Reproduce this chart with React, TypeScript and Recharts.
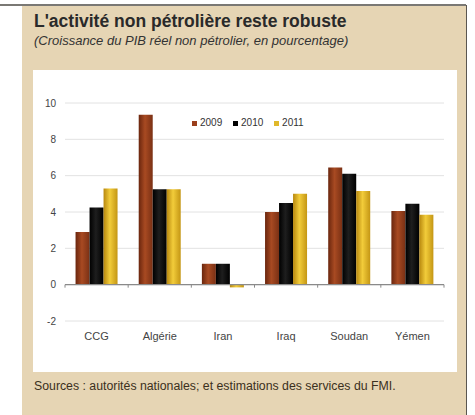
import React from "react";
import { BarChart, Bar, XAxis, YAxis, CartesianGrid, ReferenceLine } from "recharts";

const categories = ["CCG", "Algérie", "Iran", "Iraq", "Soudan", "Yémen"];
const values2009 = [2.9, 9.35, 1.15, 4.0, 6.45, 4.05];
const values2010 = [4.25, 5.25, 1.15, 4.5, 6.1, 4.45];
const values2011 = [5.3, 5.25, -0.15, 5.0, 5.15, 3.85];
const yTicks = [-2, 0, 2, 4, 6, 8, 10];
const seriesNames = ["2009", "2010", "2011"];

const title = "L'activité non pétrolière reste robuste";
const subtitle = "(Croissance du PIB réel non pétrolier, en pourcentage)";
const source = "Sources : autorités nationales; et estimations des services du FMI.";

const data = categories.map((c, i) => ({
  name: c,
  y2009: values2009[i],
  y2010: values2010[i],
  y2011: values2011[i],
}));

const seriesKeys = ["y2009", "y2010", "y2011"];
const legendColors = ["#9a3f1c", "#000000", "#e0b82a"];
const gradStops = [
  ["#6a260e", "#a84a22", "#7a3014"],
  ["#000000", "#1e1e1e", "#000000"],
  ["#b8880e", "#f2cc3a", "#c49614"],
];

const FONT = "'Liberation Sans', Arial, sans-serif";

const ZeroAxis = (props: any) => {
  const { x1, x2, y1 } = props;
  const n = categories.length;
  const ticks = [];
  for (let i = 0; i <= n; i++) {
    const x = x1 + ((x2 - x1) * i) / n;
    ticks.push(<line key={i} x1={x} x2={x} y1={y1} y2={y1 + 3} stroke="#8a8a8a" strokeWidth={1} />);
  }
  return (
    <g>
      <line x1={x1} x2={x2} y1={y1} y2={y1} stroke="#8a8a8a" strokeWidth={1.2} />
      {ticks}
    </g>
  );
};

export default function App() {
  return (
    <div style={{ position: "absolute", left: 0, top: 0, width: 475, height: 415, background: "#fff", overflow: "hidden", fontFamily: FONT }}>
      <div style={{ position: "absolute", left: 0, top: 4, width: 466, height: 2, background: "#7a7874" }} />
      <div style={{ position: "absolute", left: 22, top: 6, width: 444, height: 409, background: "#e6d5b4" }} />
      <div style={{ position: "absolute", left: 466, top: 5, width: 1, height: 410, background: "#5a5650" }} />
      <div style={{ position: "absolute", left: 33, top: 70, width: 424, height: 302, background: "#ffffff" }} />
      <div style={{ position: "absolute", left: 34, top: 11, fontSize: 17.5, fontWeight: "bold", color: "#2a2a2a", whiteSpace: "nowrap", lineHeight: 1.15 }}>
        {title}
      </div>
      <div style={{ position: "absolute", left: 34, top: 34, fontSize: 13, fontStyle: "italic", color: "#333", whiteSpace: "nowrap", lineHeight: 1.15 }}>
        {subtitle}
      </div>
      <div style={{ position: "absolute", left: 34, top: 378.5, fontSize: 12.3, color: "#3b3020", whiteSpace: "nowrap", lineHeight: 1.15 }}>
        {source}
      </div>
      <div style={{ position: "absolute", left: 192, top: 117, display: "flex", fontSize: 10, color: "#333", lineHeight: "12px" }}>
        {seriesNames.map((s, i) => (
          <div key={s} style={{ display: "flex", alignItems: "center", marginRight: 10.8 }}>
            <div style={{ width: 5, height: 5, background: legendColors[i], marginRight: 3 }} />
            <span>{s}</span>
          </div>
        ))}
      </div>
      <div style={{ position: "absolute", left: 0, top: 0 }}>
        <BarChart
          width={475}
          height={415}
          data={data}
          margin={{ top: 103, right: 31, bottom: 64, left: 35 }}
          barCategoryGap="16.7%"
          barGap={0}
        >
          <defs>
            {gradStops.map((st, i) => (
              <linearGradient key={i} id={`g${i}`} x1="0" y1="0" x2="1" y2="0">
                <stop offset="0%" stopColor={st[0]} />
                <stop offset="45%" stopColor={st[1]} />
                <stop offset="100%" stopColor={st[2]} />
              </linearGradient>
            ))}
          </defs>
          <CartesianGrid vertical={false} stroke="#e2e2e2" />
          <XAxis
            dataKey="name"
            axisLine={false}
            tickLine={false}
            tickSize={0}
            tickMargin={11}
            height={30}
            interval={0}
            tick={{ fontSize: 11, fill: "#444", fontFamily: FONT }}
          />
          <YAxis
            domain={[-2, 10]}
            ticks={yTicks}
            axisLine={false}
            tickLine={false}
            tickSize={0}
            tickMargin={9}
            width={30}
            tick={{ fontSize: 10, fill: "#444", fontFamily: FONT }}
          />
          {seriesKeys.map((k, i) => (
            <Bar key={k} dataKey={k} fill={`url(#g${i})`} isAnimationActive={false} />
          ))}
          <ReferenceLine y={0} shape={ZeroAxis} />
        </BarChart>
      </div>
    </div>
  );
}
